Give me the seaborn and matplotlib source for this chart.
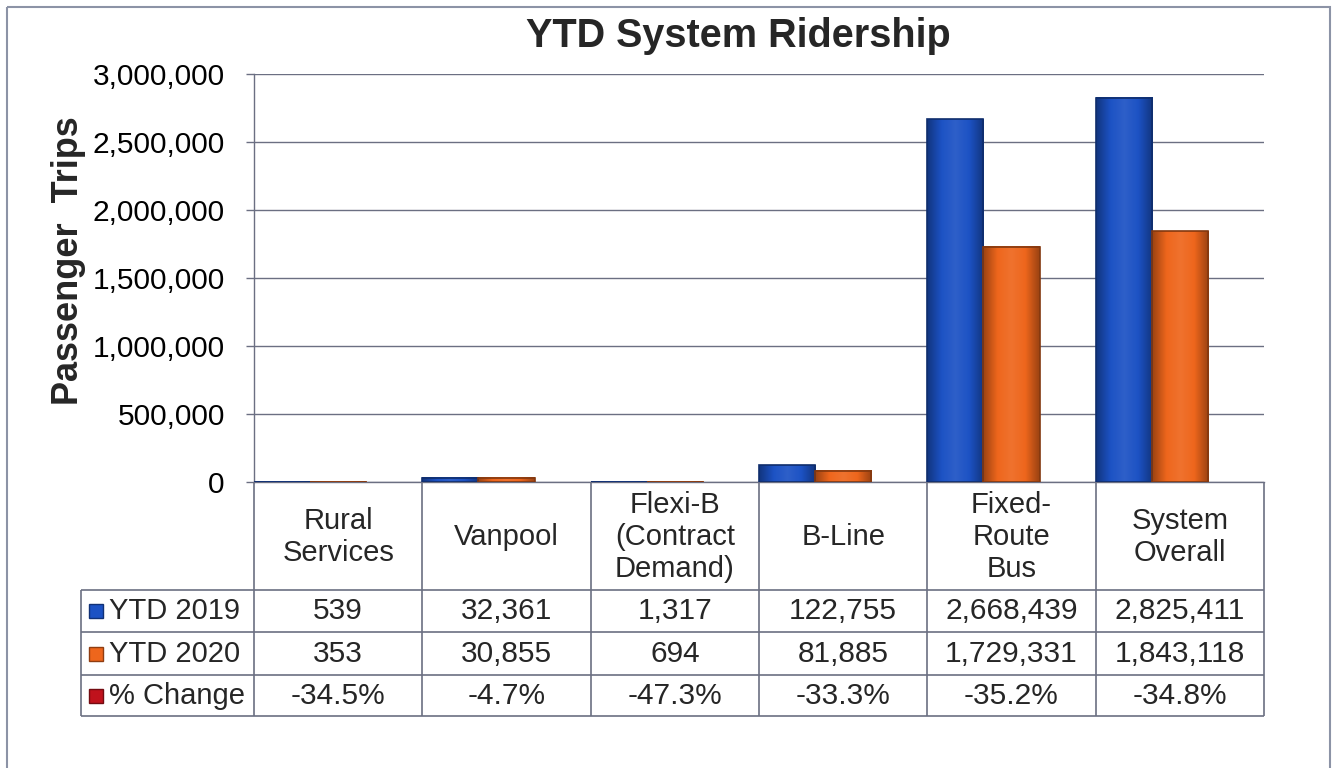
import numpy as np
import pandas as pd
import matplotlib
matplotlib.use("Agg")
import matplotlib.pyplot as plt
import seaborn as sns
from matplotlib.colors import LinearSegmentedColormap, to_rgb
from matplotlib.patches import Rectangle
from matplotlib.ticker import FuncFormatter

categories = ["Rural\nServices", "Vanpool", "Flexi-B\n(Contract\nDemand)",
              "B-Line", "Fixed-\nRoute\nBus", "System\nOverall"]
ytd_2019 = [539, 32361, 1317, 122755, 2668439, 2825411]
ytd_2020 = [353, 30855, 694, 81885, 1729331, 1843118]
pct_change = [-34.5, -4.7, -47.3, -33.3, -35.2, -34.8]
series_names = ["YTD 2019", "YTD 2020", "% Change"]

blue = "#1c52c4"
orange = "#ee661c"
red = "#c0121c"
line_col = "#6b6f82"

df = pd.DataFrame({
    "category": categories * 2,
    "series": [series_names[0]] * len(categories) + [series_names[1]] * len(categories),
    "trips": ytd_2019 + ytd_2020,
})

sns.set_theme(style="white")
plt.rcParams["font.family"] = ["Liberation Sans", "DejaVu Sans"]

W, H = 1337, 768
fig = plt.figure(figsize=(W / 100, H / 100), dpi=100)
ax = fig.add_axes([254 / W, (H - 482) / H, (1264 - 254) / W, (482 - 74) / H])

sns.barplot(data=df, x="category", y="trips", hue="series", palette=[blue, orange],
            width=2 / 3, saturation=1, ax=ax, legend=False)


def shade(c, f):
    c = np.array(to_rgb(c))
    return tuple(np.clip(c * f, 0, 1)) if f < 1 else tuple(c + (1 - c) * (f - 1))


# give the bars a soft excel-like gradient
for p in list(ax.patches):
    fc = p.get_facecolor()[:3]
    cmap = LinearSegmentedColormap.from_list(
        "g", [shade(fc, 0.65), fc, shade(fc, 1.08), fc, shade(fc, 0.65)])
    x0, y0, w, h = p.get_x(), p.get_y(), p.get_width(), p.get_height()
    ax.imshow(np.linspace(0, 1, 64)[None, :], cmap=cmap, extent=[x0, x0 + w, y0, y0 + h],
              aspect="auto", interpolation="bilinear", zorder=2.5)
    p.set_facecolor("none")
    p.set_edgecolor(shade(fc, 0.55))
    p.set_linewidth(1.2)
    p.set_zorder(3)

ax.set_xlim(-1 / 3, len(categories) - 1 / 3)
ax.set_ylim(0, 3_000_000)
ax.set_yticks(np.arange(0, 3_000_001, 500_000))
ax.yaxis.set_major_formatter(FuncFormatter(lambda v, _: f"{v:,.0f}"))
ax.set_xticks([])
ax.set_xlabel("")
ax.set_ylabel("")
ax.yaxis.grid(True, color=line_col, lw=1)
ax.set_axisbelow(True)
ax.tick_params(axis="y", left=True, direction="out", length=6, width=1,
               color=line_col, pad=15, labelsize=21.5, labelcolor="black")
for s in ["top", "right"]:
    ax.spines[s].set_visible(False)
for s in ["left", "bottom"]:
    ax.spines[s].set_color(line_col)
    ax.spines[s].set_linewidth(1)

fig.text(738 / W, 1 - 36 / H, "YTD System Ridership", ha="center", va="center",
         fontsize=28.5, fontweight="bold")
fig.text(68 / W, 1 - 261 / H, "Passenger  Trips", ha="center", va="center",
         rotation=90, fontsize=26, fontweight="bold")

# data table under the plot, laid out in pixel coordinates
ov = fig.add_axes([0, 0, 1, 1])
ov.set_xlim(0, W)
ov.set_ylim(H, 0)
ov.axis("off")

col_edges = np.linspace(254, 1264, len(categories) + 1)
row_edges = [590, 632, 675, 716]
ov.hlines(row_edges, 81, 1264, color=line_col, lw=1.2)
ov.vlines(col_edges, 482, 716, color=line_col, lw=1.2)
ov.vlines(81, 590, 716, color=line_col, lw=1.2)

centers = (col_edges[:-1] + col_edges[1:]) / 2
for cx, lab in zip(centers, categories):
    ov.text(cx, 537, lab, ha="center", va="center", fontsize=21, linespacing=1.2)

rows = [
    [f"{v:,}" for v in ytd_2019],
    [f"{v:,}" for v in ytd_2020],
    [f"{v:.1f}%" for v in pct_change],
]
key_colors = [blue, orange, red]
for r, (vals, name, kc) in enumerate(zip(rows, series_names, key_colors)):
    yc = (row_edges[r] + row_edges[r + 1]) / 2
    ov.add_patch(Rectangle((89, yc - 7), 14, 14, facecolor=kc, edgecolor=shade(kc, 0.6), lw=1))
    ov.text(109, yc, name, ha="left", va="center", fontsize=21)
    for cx, t in zip(centers, vals):
        ov.text(cx, yc, t, ha="center", va="center", fontsize=21.5)

# outer chart frame
ov.add_patch(Rectangle((7, 7), 1323, 790, fill=False, edgecolor="#8c93a6", lw=1.5, clip_on=False))

fig.savefig("out.png", dpi=100)
